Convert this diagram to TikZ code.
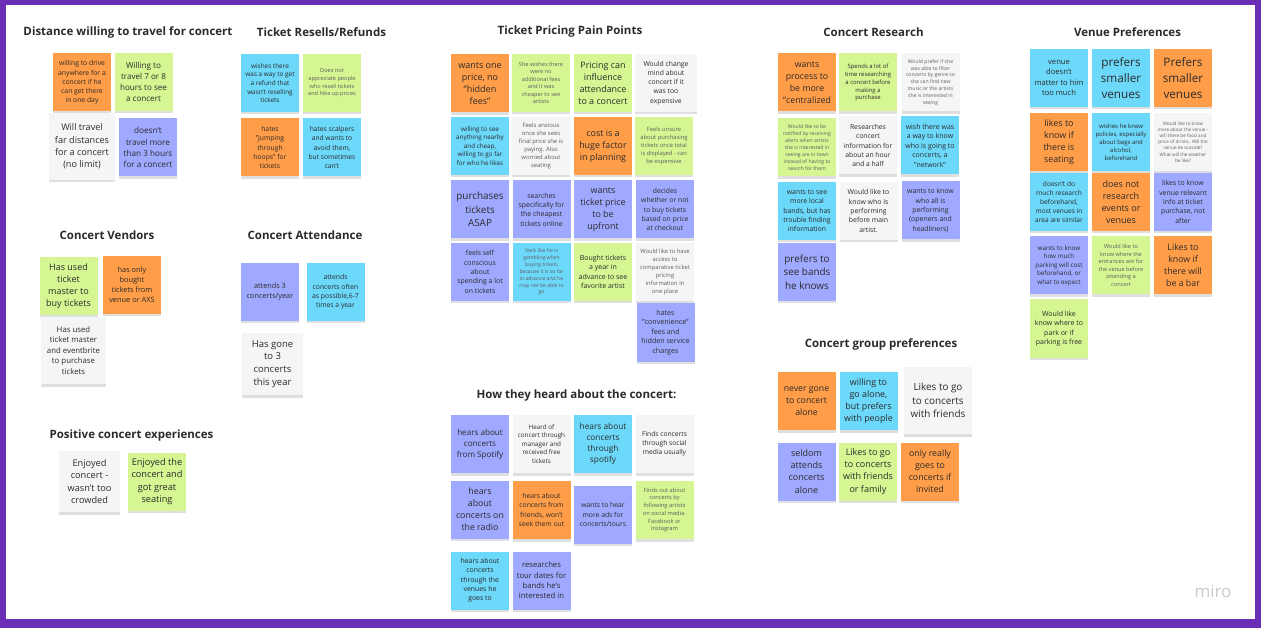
\documentclass[tikz,border=0pt]{standalone}
\usepackage{fontspec}
\setmainfont{Open Sans}
\usepackage{tikz}
\usetikzlibrary{shadows}

\definecolor{boardframe}{HTML}{6B2FB7}
\definecolor{ink}{HTML}{2B2B2B}
\definecolor{inkfaint}{HTML}{5E5E5E}
\definecolor{stickyorange}{HTML}{FF9D48}
\definecolor{stickygreen}{HTML}{D5F692}
\definecolor{stickyblue}{HTML}{6CD8FA}
\definecolor{stickyviolet}{HTML}{9EA9FF}
\definecolor{stickywhite}{HTML}{F4F5F7}
\definecolor{logogray}{HTML}{C9C9D3}

\tikzset{
  note/.style={minimum width=58pt, minimum height=58pt, inner sep=1pt, align=center, text=ink,
    drop shadow={shadow xshift=0pt, shadow yshift=-2.5pt, opacity=0.25}},
  fz/.style={/utils/exec={\pgfmathsetmacro\notelh{1.35*#1}}, font=\fontsize{#1}{\notelh}\selectfont},
  org/.style={note, fill=stickyorange},
  grn/.style={note, fill=stickygreen},
  blu/.style={note, fill=stickyblue},
  vio/.style={note, fill=stickyviolet},
  wht/.style={note, fill=stickywhite},
  faint/.style={text=inkfaint},
  heading/.style={font=\fontsize{11.5}{14}\selectfont\bfseries, text=ink}
}

\begin{document}
\begin{tikzpicture}[x=1pt, y=-1pt]
  \useasboundingbox (0,0) rectangle (1261,628);
  \fill[boardframe] (0,0) rectangle (1261,628);
  \fill[white] (6,5) rectangle (1255,619);

  \node[heading] (dist) at (128,32) {Distance willing to travel for concert};
  \node[org, fz=6.8] (D1) at (82,82.5) {willing to drive\\anywhere for a\\concert if he\\can get there\\in one day};
  \node[grn, fz=8.1] (D2) at (143.5,82) {Willing to\\travel 7 or 8\\hours to see\\a concert};
  \node[wht, fz=9.1, minimum width=66pt, minimum height=67pt] (D3) at (82,146.5) {Will travel\\far distances\\for a concert\\(no limit)};
  \node[vio, fz=8.2] (D4) at (148,147.5) {doesn't\\travel more\\than 3 hours\\for a concert};

  \node[heading] (resell) at (321.5,32) {Ticket Resells/Refunds};
  \node[blu, fz=6.4] (R1) at (270,83) {wishes there\\was a way to get\\a refund that\\wasn't reselling\\tickets};
  \node[grn, fz=5.6, faint] (R2) at (332,83) {Does not\\appreciate people\\who resell tickets\\and hike up prices};
  \node[org, fz=6.8] (R3) at (270,147.5) {hates\\"jumping\\through\\hoops" for\\tickets};
  \node[blu, fz=6.7] (R4) at (332,147.5) {hates scalpers\\and wants to\\avoid them,\\but sometimes\\can't};

  \node[heading] (vendors) at (107,235) {Concert Vendors};
  \node[grn, fz=9] (V1) at (68.5,286) {Has used\\ticket\\master to\\buy tickets};
  \node[org, fz=7.4] (V2) at (132,285) {has only\\bought\\tickets from\\venue or AXS};
  \node[wht, fz=7.8, minimum width=65pt, minimum height=67pt] (V3) at (73.5,350.5) {Has used\\ticket master\\and eventbrite\\to purchase\\tickets};

  \node[heading] (attend) at (305,235) {Concert Attendance};
  \node[vio, fz=7.3] (A1) at (270,292) {attends 3\\concerts/year};
  \node[blu, fz=6.8] (A2) at (335.5,292) {attends\\concerts often\\as possible,6-7\\times a year};
  \node[wht, fz=9.5, minimum width=61pt, minimum height=62pt] (A3) at (272.5,364) {Has gone\\to 3\\concerts\\this year};

  \node[heading] (positive) at (131.5,436) {Positive concert experiences};
  \node[wht, fz=9.2, minimum width=61pt, minimum height=61pt] (P1) at (89.5,481.5) {Enjoyed\\concert -\\wasn't too\\crowded};
  \node[grn, fz=9.2] (P2) at (157,481.5) {Enjoyed the\\concert and\\got great\\seating};

  \node[heading] (pricing) at (570,32) {Ticket Pricing Pain Points};
  \node[org, fz=9] (T1) at (480,83.5) {wants one\\price, no\\"hidden\\fees"};
  \node[grn, fz=5.6, faint] (T2) at (541,83) {She wishes there\\were no\\additional fees\\and it was\\cheaper to see\\artists};
  \node[grn, fz=8.9] (T3) at (603,83) {Pricing can\\influence\\attendance\\to a concert};
  \node[wht, fz=6.8, minimum width=62pt] (T4) at (666,83) {Would change\\mind about\\concert if it\\was too\\expensive};
  \node[blu, fz=6.3] (T5) at (480,146) {willing to see\\anything nearby\\and cheap,\\willing to go far\\for who he likes};
  \node[wht, fz=5.9, faint] (T6) at (541,146) {Feels anxious\\once she sees\\final price she is\\paying. Also\\worried about\\seating};
  \node[org, fz=8.9] (T7) at (603,146) {cost is a\\huge factor\\in planning};
  \node[grn, fz=5.8, faint] (T8) at (664,146) {Feels unsure\\about purchasing\\tickets once total\\is displayed - can\\be expensive};
  \node[vio, fz=9.9] (T9) at (480,209.5) {purchases\\tickets\\ASAP};
  \node[vio, fz=6.9] (T10) at (541.5,209.5) {searches\\specifically for\\the cheapest\\tickets online};
  \node[vio, fz=8.9] (T11) at (603,209.5) {wants\\ticket price\\to be\\upfront};
  \node[vio, fz=6.8] (T12) at (665,209.5) {decides\\whether or not\\to buy tickets\\based on price\\at checkout};
  \node[vio, fz=6.9] (T13) at (480,272) {feels self\\conscious\\about\\spending a lot\\on tickets};
  \node[blu, fz=5.1, faint] (T14) at (541.5,272) {feels like he is\\gambling when\\buying tickets\\because it is so far\\in advance and he\\may not be able to\\go};
  \node[grn, fz=7] (T15) at (603,272) {Bought tickets\\a year in\\advance to see\\favorite artist};
  \node[wht, fz=5.8, faint] (T16) at (665,272) {Would like to have\\access to\\comparative ticket\\pricing\\information in\\one place};
  \node[vio, fz=7.1] (T17) at (665.5,332.5) {hates\\"convenience"\\fees and\\hidden service\\charges};

  \node[heading] (heard) at (576.5,396) {How they heard about the concert:};
  \node[vio, fz=8.1] (H1) at (480,444) {hears about\\concerts\\from Spotify};
  \node[wht, fz=6.3] (H2) at (541.5,444) {Heard of\\concert through\\manager and\\received free\\tickets};
  \node[blu, fz=8.3] (H3) at (603,444) {hears about\\concerts\\through\\spotify};
  \node[wht, fz=6.7] (H4) at (664.5,444) {Finds concerts\\through social\\media usually};
  \node[vio, fz=8.8] (H5) at (480,509.5) {hears\\about\\concerts on\\the radio};
  \node[org, fz=6.8] (H6) at (541.5,510) {hears about\\concerts from\\friends, won't\\seek them out};
  \node[vio, fz=6.8] (H7) at (603,514.5) {wants to hear\\more ads for\\concerts/tours};
  \node[grn, fz=5.7, faint] (H8) at (664.5,510) {Finds out about\\concerts by\\following artists\\on social media-\\Facebook or\\Instagram};
  \node[blu, fz=6.9] (H9) at (480,580.5) {hears about\\concerts\\through the\\venues he\\goes to};
  \node[vio, fz=7.7] (H10) at (541.5,580.5) {researches\\tour dates for\\bands he's\\interested in};

  \node[heading] (research) at (873.5,32) {Concert Research};
  \node[org, fz=8.8] (C1) at (807,82.5) {wants\\process to\\be more\\"centralized};
  \node[grn, fz=5.9] (C2) at (868,82.5) {Spends a lot of\\time researching\\a concert before\\making a\\purchase};
  \node[wht, fz=5.1, faint] (C3) at (930.5,82.5) {Would prefer if she\\was able to filter\\concerts by genre so\\she can find new\\music or the artists\\she is interested in\\seeing};
  \node[grn, fz=5.1, faint] (C4) at (807,147.5) {Would like to be\\notified by receiving\\alerts when artists\\she is interested in\\seeing are in town\\instead of having to\\search for them};
  \node[wht, fz=6.8] (C5) at (868,145.5) {Researches\\concert\\information for\\about an hour\\and a half};
  \node[blu, fz=7] (C6) at (930,145.5) {wish there was\\a way to know\\who is going to\\concerts, a\\"network"};
  \node[blu, fz=6.9] (C7) at (807,211) {wants to see\\more local\\bands, but has\\trouble finding\\information};
  \node[wht, fz=6.9] (C8) at (868.5,211) {Would like to\\know who is\\performing\\before main\\artist.};
  \node[vio, fz=6.9] (C9) at (930.5,210.5) {wants to know\\who all is\\performing\\(openers and\\headliners)};
  \node[vio, fz=9.9] (C10) at (807,272) {prefers to\\see bands\\he knows};

  \node[heading] (group) at (881,344) {Concert group preferences};
  \node[org, fz=8.7] (G1) at (806.5,401) {never gone\\to concert\\alone};
  \node[blu, fz=8.9] (G2) at (868.5,401) {willing to\\go alone,\\but prefers\\with people};
  \node[wht, fz=9.9, minimum width=68pt, minimum height=67pt] (G3) at (938,400.5) {Likes to go\\to concerts\\with friends};
  \node[vio, fz=9] (G4) at (806.5,471.5) {seldom\\attends\\concerts\\alone};
  \node[grn, fz=9] (G5) at (868,471.5) {Likes to go\\to concerts\\with friends\\or family};
  \node[org, fz=8.8] (G6) at (930,471.5) {only really\\goes to\\concerts if\\invited};

  \node[heading] (venue) at (1127.5,32) {Venue Preferences};
  \node[blu, fz=7.6] (U1) at (1059,78) {venue\\doesn't\\matter to him\\too much};
  \node[blu, fz=11.7] (U2) at (1121,78) {prefers\\smaller\\venues};
  \node[org, fz=11.7] (U3) at (1183,78) {Prefers\\smaller\\venues};
  \node[org, fz=8.9] (U4) at (1059,142) {likes to\\know if\\there is\\seating};
  \node[blu, fz=6] (U5) at (1121,142) {wishes he knew\\policies, especially\\about bags and\\alcohol,\\beforehand};
  \node[wht, fz=4.6, faint] (U6) at (1183,142) {Would like to know\\more about the venue -\\will there be food and\\price of drinks. Will the\\venue be outside?\\What will the weather\\be like?};
  \node[blu, fz=6.6] (U7) at (1059,202) {doesn't do\\much research\\beforehand,\\most venues in\\area are similar};
  \node[org, fz=9] (U8) at (1121,202) {does not\\research\\events or\\venues};
  \node[vio, fz=6.9] (U9) at (1183,202) {likes to know\\venue relevant\\info at ticket\\purchase, not\\after};
  \node[vio, fz=6.3] (U10) at (1059,265.5) {wants to know\\how much\\parking will cost\\beforehand, or\\what to expect};
  \node[grn, fz=5.6, faint] (U11) at (1121,265.5) {Would like to\\know where the\\entrances are for\\the venue before\\attending a\\concert};
  \node[org, fz=8.8] (U12) at (1183,265.5) {Likes to\\know if\\there will\\be a bar};
  \node[grn, fz=7] (U13) at (1059,328.5) {Would like\\know where to\\park or if\\parking is free};

  \node[text=logogray, font=\fontsize{17}{20}\selectfont] (miro) at (1213,591) {miro};
\end{tikzpicture}
\end{document}
